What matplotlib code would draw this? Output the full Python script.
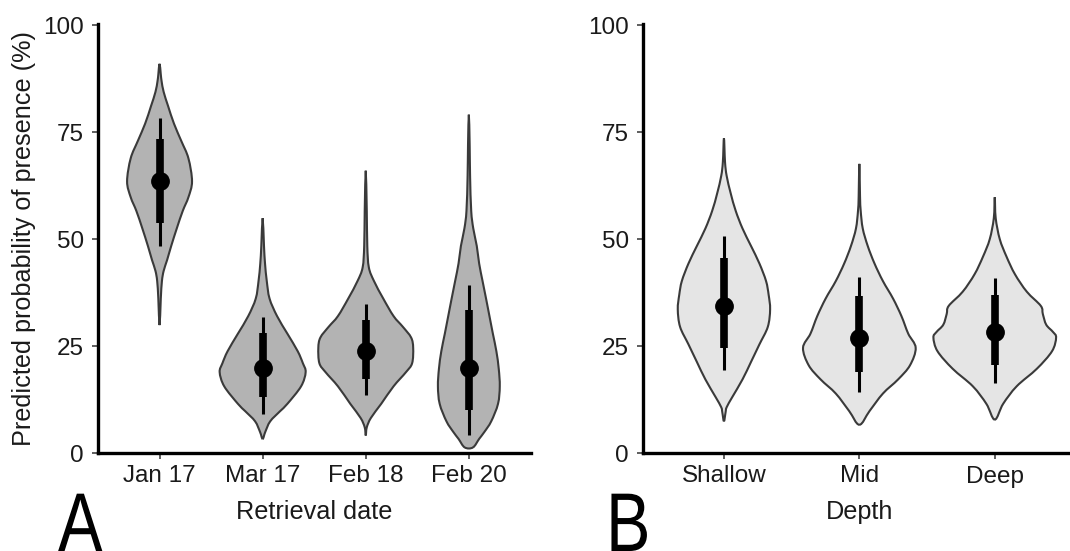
import matplotlib
matplotlib.use("Agg")
import matplotlib.pyplot as plt
import numpy as np
from matplotlib.path import Path
from matplotlib.patches import PathPatch
from matplotlib.patheffects import AbstractPathEffect
from matplotlib.transforms import Affine2D

plt.rcParams["font.family"] = ["Liberation Sans", "DejaVu Sans"]

# panel A: retrieval date
dates = ["Jan 17", "Mar 17", "Feb 18", "Feb 20"]
# violin outlines: probability level (%) and half width (category units)
date_levels = [
    [29.9, 36.1, 40.2, 42.6, 45.1, 48.4, 52.5, 56.6, 59.8, 63.5, 68.9, 73.0, 77.0, 81.1, 84.4, 86.9, 88.5, 91.0],
    [3.3, 4.9, 7.4, 9.8, 11.5, 15.6, 18.9, 21.0, 23.8, 27.9, 32.0, 36.1, 40.2, 44.3, 48.4, 54.9],
    [4.1, 6.0, 8.2, 11.5, 15.6, 18.9, 21.0, 24.6, 27.0, 29.5, 32.0, 36.1, 40.2, 43.4, 48.4, 56.6, 66.0],
    [1.3, 3.3, 4.9, 7.4, 11.5, 15.6, 19.7, 23.8, 27.9, 32.0, 36.1, 40.2, 44.3, 48.4, 52.5, 56.6, 64.8, 72.0, 79.1],
]
date_widths = [
    [0, 0.012, 0.023, 0.04, 0.073, 0.113, 0.167, 0.225, 0.28, 0.315, 0.28, 0.21, 0.14, 0.083, 0.04, 0.02, 0.012, 0],
    [0, 0.025, 0.073, 0.17, 0.24, 0.373, 0.417, 0.39, 0.34, 0.24, 0.14, 0.067, 0.04, 0.023, 0.013, 0],
    [0, 0.01, 0.05, 0.15, 0.27, 0.39, 0.45, 0.46, 0.44, 0.36, 0.27, 0.17, 0.08, 0.03, 0.015, 0.01, 0],
    [0.04, 0.1, 0.15, 0.217, 0.283, 0.3, 0.29, 0.267, 0.233, 0.2, 0.167, 0.133, 0.1, 0.077, 0.043, 0.023, 0.012, 0.008, 0],
]
date_median = [63.6, 19.8, 23.8, 19.8]
date_q66 = [(53.7, 73.4), (13.0, 28.0), (17.2, 31.1), (10.1, 33.4)]
date_q95 = [(48.5, 78.3), (9.2, 31.7), (13.5, 34.8), (4.1, 39.2)]

# panel B: depth
depths = ["Shallow", "Mid", "Deep"]
depth_levels = [
    [7.4, 9.5, 10.7, 13.1, 17.2, 21.3, 25.4, 29.5, 33.6, 37.0, 40.2, 44.3, 48.4, 52.5, 56.6, 60.7, 64.8, 68.0, 73.6],
    [6.6, 9.8, 13.9, 17.2, 20.5, 24.6, 27.9, 32.0, 36.1, 40.2, 44.3, 48.4, 52.5, 56.6, 60.0, 67.6],
    [7.8, 11.5, 15.6, 19.7, 23.8, 27.0, 28.3, 30.0, 32.5, 34.4, 37.7, 41.8, 45.9, 50.0, 54.9, 59.8],
]
depth_widths = [
    [0, 0.012, 0.02, 0.062, 0.137, 0.2, 0.262, 0.324, 0.341, 0.33, 0.311, 0.262, 0.2, 0.137, 0.087, 0.05, 0.02, 0.008, 0],
    [0, 0.075, 0.174, 0.286, 0.374, 0.416, 0.361, 0.311, 0.249, 0.174, 0.112, 0.062, 0.025, 0.01, 0.005, 0],
    [0, 0.062, 0.162, 0.311, 0.423, 0.453, 0.43, 0.38, 0.355, 0.34, 0.237, 0.149, 0.087, 0.037, 0.007, 0],
]
depth_median = [34.4, 26.8, 28.4]
depth_q66 = [(24.6, 45.5), (18.9, 36.7), (20.5, 36.9)]
depth_q95 = [(19.3, 50.8), (14.2, 41.2), (16.4, 41.0)]

W, H = 1070, 551
FS = 17.5
FS_LAB = 18.2
TXT = "#1a1a1a"


class Squeeze(AbstractPathEffect):
    """narrow the glyphs horizontally (panel tags are a condensed face)"""

    def __init__(self, sx):
        super().__init__()
        self.sx = sx

    def draw_path(self, renderer, gc, tpath, affine, rgbFace=None):
        renderer.draw_path(gc, tpath, Affine2D().scale(self.sx, 1) + affine, rgbFace)


def violin_path(x, levels, widths):
    # closed outline: right side bottom->top, left side top->bottom
    right = [(x + w, y) for y, w in zip(levels, widths)]
    left = [(x - w, y) for y, w in zip(levels[::-1], widths[::-1])]
    if widths[-1] == 0:
        left = left[1:]
    if widths[0] == 0:
        left = left[:-1]
    pts = np.array(right + left, dtype=float)
    n = len(pts)
    verts = [pts[0]]
    codes = [Path.MOVETO]
    for i in range(n):
        p0, p1, p2, p3 = pts[i - 1], pts[i], pts[(i + 1) % n], pts[(i + 2) % n]
        verts += [p1 + (p2 - p0) / 6, p2 - (p3 - p1) / 6, p2]
        codes += [Path.CURVE4] * 3
    return Path(verts, codes)


def draw_panel(ax, labels, levels, widths, med, q66, q95, fill, xlabel):
    pos = np.arange(1, len(labels) + 1)
    for x, lv, wd in zip(pos, levels, widths):
        ax.add_patch(PathPatch(violin_path(x, lv, wd), facecolor=fill,
                               edgecolor="#3a3a3a", lw=1.5, zorder=2))
    ax.vlines(pos, [q[0] for q in q95], [q[1] for q in q95], color="black", lw=2.2, zorder=3)
    ax.vlines(pos, [q[0] for q in q66], [q[1] for q in q66], color="black", lw=5.5, zorder=3)
    ax.plot(pos, med, "o", color="black", ms=12.5, zorder=4)

    ax.set_xlim(0.4, len(labels) + 0.6)
    ax.set_ylim(0, 100.3)
    ax.set_xticks(pos)
    ax.set_xticklabels(labels)
    ax.set_yticks([0, 25, 50, 75, 100])
    ax.set_xlabel(xlabel, fontsize=FS_LAB, color=TXT, labelpad=9)
    for s in ["top", "right"]:
        ax.spines[s].set_visible(False)
    for s in ["left", "bottom"]:
        ax.spines[s].set_linewidth(2.4)
        ax.spines[s].set_color("black")
    ax.tick_params(axis="both", length=4, width=1.1, color="#333333",
                   labelsize=FS, labelcolor=TXT, pad=5)
    ax.tick_params(axis="y", pad=6)


fig = plt.figure(figsize=(W / 100, H / 100), dpi=100)
ax1 = fig.add_axes([97.7 / W, 98 / H, 433 / W, 429 / H])
ax2 = fig.add_axes([642.7 / W, 98 / H, 433.3 / W, 429 / H])

draw_panel(ax1, dates, date_levels, date_widths, date_median, date_q66, date_q95,
           "#b3b3b3", "Retrieval date")
draw_panel(ax2, depths, depth_levels, depth_widths, depth_median, depth_q66, depth_q95,
           "#e5e5e5", "Depth")
ax1.set_ylabel("Predicted probability of presence (%)", fontsize=FS_LAB, color=TXT, labelpad=5)

for tag, xpx in [("A", 58), ("B", 606)]:
    fig.text(xpx / W, 0.0, tag, fontsize=60, ha="left", va="baseline",
             path_effects=[Squeeze(0.8)])

fig.savefig("out.png", dpi=100, facecolor="white")
